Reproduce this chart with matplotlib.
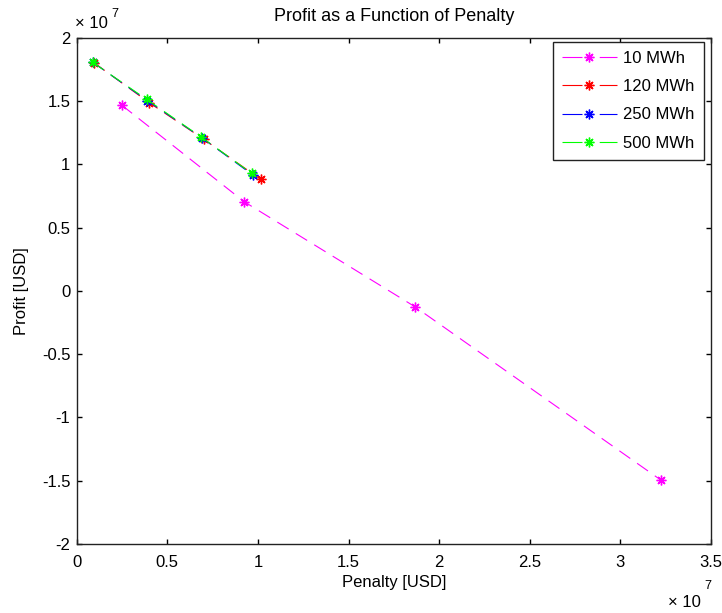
import matplotlib.pyplot as plt
from matplotlib.lines import Line2D
from matplotlib.ticker import FuncFormatter, MultipleLocator

plt.rcParams['font.family'] = ['Liberation Sans', 'DejaVu Sans']

# Penalty and profit [USD] for each storage size
pen_10 = [0.248e7, 0.924e7, 1.866e7, 3.223e7]
prof_10 = [1.470e7, 0.706e7, -0.124e7, -1.494e7]

pen_120 = [0.095e7, 0.400e7, 0.702e7, 1.015e7]
prof_120 = [1.805e7, 1.489e7, 1.199e7, 0.883e7]

pen_250 = [0.090e7, 0.390e7, 0.690e7, 0.972e7]
prof_250 = [1.807e7, 1.505e7, 1.212e7, 0.917e7]

pen_500 = [0.088e7, 0.386e7, 0.684e7, 0.965e7]
prof_500 = [1.808e7, 1.515e7, 1.220e7, 0.930e7]

labels = ['10 MWh', '120 MWh', '250 MWh', '500 MWh']
colors = ['#ff00ff', '#ff0000', '#0000ff', '#00ff00']

asterisk = (8, 2, 0)

fig = plt.figure(figsize=(7.22, 6.13), dpi=100)
ax = fig.add_axes([0.1062, 0.1126, 0.8785, 0.8254])

handles = []
for px, py, lab, col in zip([pen_10, pen_120, pen_250, pen_500],
                            [prof_10, prof_120, prof_250, prof_500],
                            labels, colors):
    ax.plot(px, py, linestyle=(0, (12, 7.5)), marker=asterisk, color=col,
            linewidth=0.8, markersize=7, markeredgewidth=1.0)
    # legend sample: dash, marker, dash
    handles.append(Line2D([], [], linestyle=(0, (18, 15.5)), marker=asterisk,
                          color=col, linewidth=0.8, markersize=7,
                          markeredgewidth=1.0))

ax.set_xlim(0, 3.5e7)
ax.set_ylim(-2e7, 2e7)
ax.xaxis.set_major_locator(MultipleLocator(0.5e7))
ax.yaxis.set_major_locator(MultipleLocator(0.5e7))
fmt = FuncFormatter(lambda v, p: '%g' % round(v / 1e7, 2))
ax.xaxis.set_major_formatter(fmt)
ax.yaxis.set_major_formatter(fmt)
ax.tick_params(direction='in', top=True, right=True, labelsize=12,
               length=3.6, width=1.0)
ax.tick_params(axis='x', pad=8)
ax.tick_params(axis='y', pad=4.5)
for s in ax.spines.values():
    s.set_linewidth(1.0)
    s.set_color('#222222')

ax.set_xlabel('Penalty [USD]', fontsize=12, labelpad=3.5)
ax.set_ylabel('Profit [USD]', fontsize=12, labelpad=9)
ax.set_title('Profit as a Function of Penalty', fontsize=13, pad=12)

# exponent labels, MATLAB style
fig.text(75 / 722, 1 - 28 / 613, '\u00d7 10', fontsize=12, va='baseline')
fig.text(111 / 722, 1 - 17 / 613, '7', fontsize=9, va='baseline')
fig.text(668 / 722, 1 - 607 / 613, '\u00d7 10', fontsize=12, va='baseline')
fig.text(704 / 722, 1 - 589 / 613, '7', fontsize=9, va='baseline')

leg = ax.legend(handles, labels, loc='upper right',
                bbox_to_anchor=(1 - 7 / 634, 1 - 3.5 / 506), borderaxespad=0,
                fontsize=12, fancybox=False, edgecolor='#222222',
                handlelength=3.3, handletextpad=0.4, labelspacing=0.8,
                borderpad=0.55, framealpha=1)
leg.get_frame().set_linewidth(1.0)

fig.savefig('out.png', dpi=100)
